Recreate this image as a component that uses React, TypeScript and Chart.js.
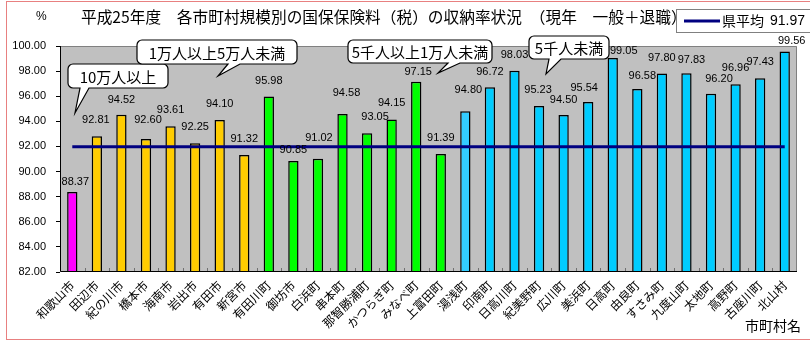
import React, { useEffect, useRef } from 'react';
import { Chart, registerables } from 'chart.js';

Chart.register(...registerables);

// ---- data ----
const municipalities = [
  '和歌山市', '田辺市', '紀の川市', '橋本市', '海南市', '岩出市', '有田市', '新宮市',
  '有田川町', '御坊市', '白浜町', '串本町', '那智勝浦町', 'かつらぎ町', 'みなべ町', '上富田町',
  '湯浅町', '印南町', '日高川町', '紀美野町', '広川町', '美浜町', '日高町', '由良町',
  'すさみ町', '九度山町', '太地町', '高野町', '古座川町', '北山村',
];
const collectionRates = [
  88.37, 92.81, 94.52, 92.60, 93.61, 92.25, 94.10, 91.32,
  95.98, 90.85, 91.02, 94.58, 93.05, 94.15, 97.15, 91.39,
  94.80, 96.72, 98.03, 95.23, 94.50, 95.54, 99.05, 96.58,
  97.80, 97.83, 96.20, 96.96, 97.43, 99.56,
];
// population size group of each municipality (index into groupLabels)
const sizeGroup = [
  0, 1, 1, 1, 1, 1, 1, 1,
  2, 2, 2, 2, 2, 2, 2, 2,
  3, 3, 3, 3, 3, 3, 3, 3,
  3, 3, 3, 3, 3, 3,
];
const groupLabels = ['10万人以上', '1万人以上5万人未満', '5千人以上1万人未満', '5千人未満'];
const prefAverage = 91.97;
const averageLabel = '県平均';
const yMin = 82;
const yMax = 100;
const yStep = 2;
const titleText = '平成25年度　各市町村規模別の国保保険料（税）の収納率状況　（現年　一般＋退職）';
const yUnit = '%';
const xAxisTitle = '市町村名';

// ---- styles / layout (not data) ----
const groupColors = ['#FF00FF', '#FFCC00', '#00FF00', '#00CCFF'];
const CJK = '"Noto Sans CJK JP", "Noto Sans", sans-serif';
const NUM = '"Liberation Sans", Arial, sans-serif';
// value-label nudges [dx, distance above bar top] in px, as placed in the original
const labelNudge: [number, number][] = [
  [3, 10], [-1, 16], [0, 15], [2, 19], [0, 16], [0, 16], [0, 16], [0, 16],
  [0, 16], [0, 11], [1, 21], [4, 21], [8, 16], [0, 16], [2, 10], [0, 16],
  [3, 21], [0, 15], [0, 16], [-1, 16], [0, 15], [-4, 14], [11, 7], [5, 13],
  [0, 16], [5, 13], [8, 15], [0, 16], [0, 16], [7, 11],
];

function drawCallout(
  ctx: CanvasRenderingContext2D, text: string,
  x: number, y: number, w: number, h: number,
  b1: number, b2: number, tipX: number, tipY: number,
) {
  const r = 5;
  ctx.save();
  ctx.beginPath();
  ctx.moveTo(x + r, y);
  ctx.lineTo(x + w - r, y);
  ctx.arcTo(x + w, y, x + w, y + r, r);
  ctx.lineTo(x + w, y + h - r);
  ctx.arcTo(x + w, y + h, x + w - r, y + h, r);
  ctx.lineTo(b2, y + h);
  ctx.lineTo(tipX, tipY);
  ctx.lineTo(b1, y + h);
  ctx.lineTo(x + r, y + h);
  ctx.arcTo(x, y + h, x, y + h - r, r);
  ctx.lineTo(x, y + r);
  ctx.arcTo(x, y, x + r, y, r);
  ctx.closePath();
  ctx.fillStyle = '#FFFFFF';
  ctx.fill();
  ctx.strokeStyle = '#000000';
  ctx.lineWidth = 1.2;
  ctx.stroke();
  ctx.fillStyle = '#000000';
  ctx.font = `15px ${CJK}`;
  ctx.textAlign = 'center';
  ctx.textBaseline = 'middle';
  ctx.fillText(text, x + w / 2, y + h / 2 + 1);
  ctx.restore();
}

const decorPlugin = {
  id: 'decor',
  beforeDraw(chart: any) {
    const { ctx, chartArea: a } = chart;
    ctx.save();
    ctx.fillStyle = '#FFFFFF';
    ctx.fillRect(0, 0, chart.width, chart.height);
    ctx.strokeStyle = '#E88080';
    ctx.lineWidth = 1;
    ctx.strokeRect(6.5, 1.5, 830, 338);
    ctx.fillStyle = '#C0C0C0';
    ctx.fillRect(a.left, a.top, a.right - a.left, a.bottom - a.top);
    const n = municipalities.length;
    const w = (a.right - a.left) / n;
    ctx.strokeStyle = '#707070';
    ctx.lineWidth = 1;
    for (let i = 1; i < n; i++) {
      const x = Math.round(a.left + i * w) + 0.5;
      ctx.beginPath();
      ctx.moveTo(x, a.bottom);
      ctx.lineTo(x, a.bottom - 4);
      ctx.stroke();
    }
    ctx.restore();
  },
  afterDatasetsDraw(chart: any) {
    const { ctx, chartArea: a } = chart;
    ctx.save();
    ctx.lineWidth = 1;
    ctx.strokeStyle = '#808080';
    ctx.beginPath();
    ctx.moveTo(a.left, a.top + 0.5);
    ctx.lineTo(a.right - 0.5, a.top + 0.5);
    ctx.lineTo(a.right - 0.5, a.bottom);
    ctx.stroke();
    ctx.strokeStyle = '#000000';
    ctx.beginPath();
    ctx.moveTo(a.left + 0.5, a.top);
    ctx.lineTo(a.left + 0.5, a.bottom - 0.5);
    ctx.lineTo(a.right, a.bottom - 0.5);
    ctx.stroke();

    // value labels
    const meta = chart.getDatasetMeta(0);
    ctx.fillStyle = '#000000';
    ctx.font = `11px ${NUM}`;
    ctx.textAlign = 'center';
    ctx.textBaseline = 'middle';
    meta.data.forEach((bar: any, i: number) => {
      const [dx, dy] = labelNudge[i] || [0, 16];
      ctx.fillText(collectionRates[i].toFixed(2), bar.x + dx, bar.y - dy);
    });

    // callouts
    drawCallout(ctx, groupLabels[0], 68, 64, 100, 24, 80, 89, 75, 113);
    drawCallout(ctx, groupLabels[1], 137, 40, 160, 24, 228, 240, 218, 76);
    drawCallout(ctx, groupLabels[2], 348, 40, 144, 23, 448, 460, 438, 73);
    drawCallout(ctx, groupLabels[3], 529, 36, 80, 23, 549, 561, 546, 74);

    // title & axis texts
    ctx.fillStyle = '#000000';
    ctx.font = `15.7px ${CJK}`;
    ctx.textAlign = 'left';
    ctx.textBaseline = 'middle';
    ctx.fillText(titleText, 81, 17);
    ctx.font = `12px ${NUM}`;
    ctx.fillText(yUnit, 36, 17);
    ctx.font = `14px ${CJK}`;
    ctx.fillText(xAxisTitle, 745, 326);

    // legend
    ctx.fillStyle = '#FFFFFF';
    ctx.fillRect(676, 9, 140, 23);
    ctx.strokeStyle = '#808080';
    ctx.strokeRect(676.5, 9.5, 140, 23);
    ctx.strokeStyle = '#000080';
    ctx.lineWidth = 3;
    ctx.beginPath();
    ctx.moveTo(684, 21);
    ctx.lineTo(720, 21);
    ctx.stroke();
    ctx.fillStyle = '#000000';
    ctx.font = `14px ${CJK}`;
    ctx.fillText(averageLabel, 722, 21);
    ctx.font = `14px ${NUM}`;
    ctx.fillText(prefAverage.toFixed(2), 770, 21);
    ctx.restore();
  },
};

export default function App() {
  const canvasRef = useRef<HTMLCanvasElement | null>(null);

  useEffect(() => {
    document.body.style.margin = '0';
    const canvas = canvasRef.current;
    if (!canvas) return;
    const barColors = sizeGroup.map((g, i) => (i === 16 ? '#33CCFF' : groupColors[g]));
    const chart = new Chart(canvas, {
      data: {
        labels: municipalities,
        datasets: [
          {
            type: 'bar',
            label: 'rate',
            data: collectionRates,
            backgroundColor: barColors,
            borderColor: '#000000',
            borderWidth: 1.5,
            barPercentage: 0.42,
            categoryPercentage: 1,
            order: 2,
          },
          {
            type: 'line',
            label: averageLabel,
            data: municipalities.map(() => prefAverage),
            borderColor: '#000080',
            borderWidth: 3,
            pointRadius: 0,
            fill: false,
            order: 1,
          },
        ],
      } as any,
      options: {
        responsive: false,
        devicePixelRatio: 1,
        animation: false,
        layout: { padding: { left: 0, top: 46, right: 13, bottom: 0 } },
        plugins: {
          legend: { display: false },
          tooltip: { enabled: false },
          title: { display: false },
        },
        scales: {
          x: {
            offset: true,
            grid: { display: false, drawTicks: false },
            border: { display: false },
            ticks: {
              autoSkip: false,
              minRotation: 45,
              maxRotation: 45,
              padding: 6,
              color: '#000000',
              font: { family: CJK, size: 12 },
            },
            afterFit: (s: any) => { s.height = 70; },
          },
          y: {
            min: yMin,
            max: yMax,
            grid: { display: true, drawOnChartArea: false, drawTicks: true, tickLength: 4, color: '#000000' },
            border: { display: false },
            ticks: {
              stepSize: yStep,
              padding: 10,
              color: '#000000',
              font: { family: NUM, size: 11 },
              callback: (v: any) => Number(v).toFixed(2),
            },
            afterFit: (s: any) => { s.width = 60; },
          },
        },
      } as any,
      plugins: [decorPlugin],
    });
    return () => chart.destroy();
  }, []);

  return (
    <div style={{ position: 'absolute', left: 0, top: 0, width: 810, height: 342 }}>
      <canvas ref={canvasRef} width={810} height={342} style={{ display: 'block', width: 810, height: 342 }} />
    </div>
  );
}
